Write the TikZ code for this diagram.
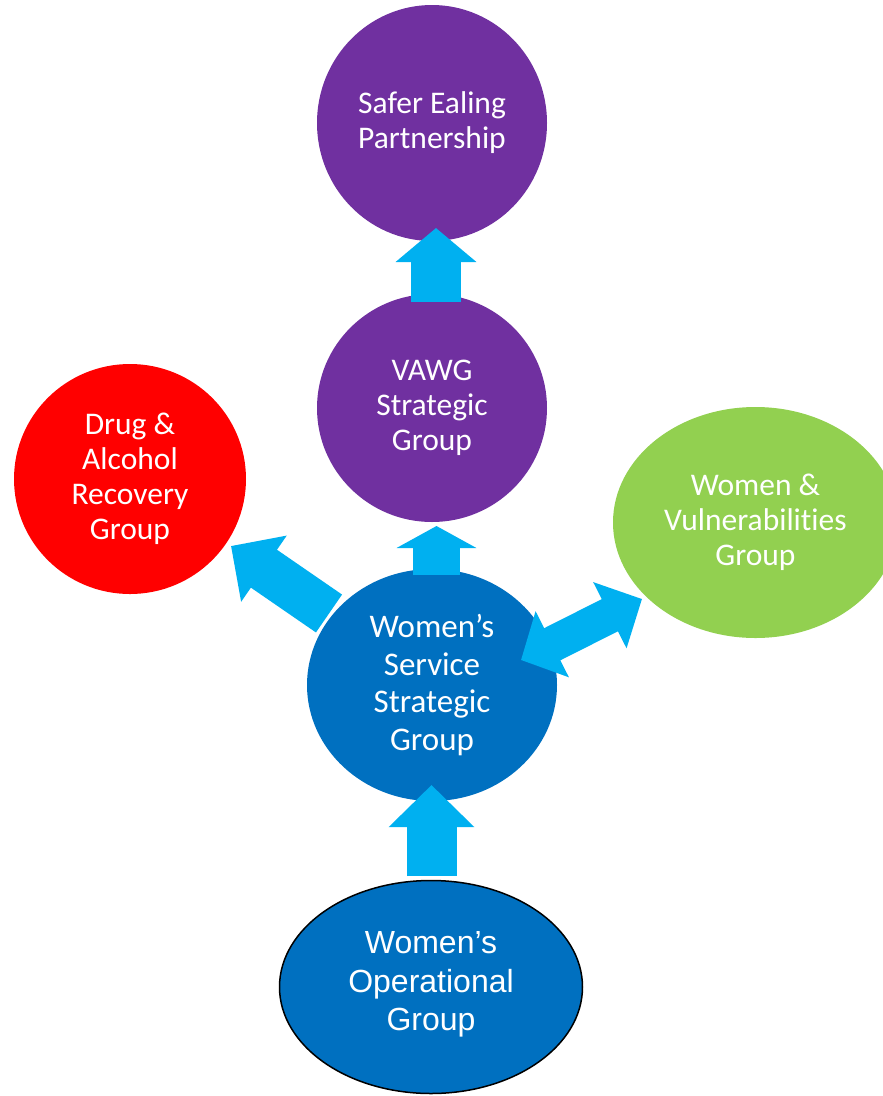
\documentclass[tikz,border=0pt]{standalone}
\usepackage{fontspec}
\setmainfont{Carlito}[Ligatures=NoCommon]
\newfontfamily\arialfont{Liberation Sans}
\usetikzlibrary{arrows.meta,shapes.geometric}
\definecolor{vpurple}{HTML}{7030A0}
\definecolor{vred}{HTML}{FF0000}
\definecolor{vgreen}{HTML}{92D050}
\definecolor{vblue}{HTML}{0070C0}
\definecolor{vcyan}{HTML}{00B0F0}
\begin{document}
\begin{tikzpicture}[x=1pt,y=-1pt,
  blob/.style={ellipse, inner sep=0pt, outer sep=0pt, text=white, align=center},
  calfont/.style={font=\fontsize{31.5}{35}\selectfont},
  blockarrow/.style={draw=vcyan, line width=#1}]
\useasboundingbox (0,0) rectangle (883,1096);
\clip (0,0) rectangle (883,1096);
\fill[white] (0,0) rectangle (883,1096);

\node[blob, calfont, fill=vpurple, minimum width=230pt, minimum height=236pt] (safer) at (432,123) {Safer Ealing\\Partnership};
\node[blob, calfont, fill=vpurple, minimum width=230pt, minimum height=228pt] (vawg) at (432,408) {VAWG\\Strategic\\Group};
\node[blob, calfont, fill=vred, minimum width=232pt, minimum height=230pt] (drug) at (130,479) {Drug \&\\Alcohol\\Recovery\\Group};
\node[blob, calfont, fill=vgreen, minimum width=285pt, minimum height=231pt] (women) at (755.5,522.5) {Women \&\\Vulnerabilities\\Group};
\node[blob, font=\fontsize{33}{37.5}\selectfont, fill=vblue, minimum width=250pt, minimum height=232pt] (wss) at (432,685) {Women’s\\Service\\Strategic\\Group};
\node[blob, font=\arialfont\fontsize{32}{38.5}\selectfont, fill=vblue, draw=black, line width=1.5pt, minimum width=303pt, minimum height=213pt] (wog) at (431,987) {Women’s\\Operational\\Group\\[-26.5pt]};

\coordinate (a1s) at (436,302);
\coordinate (a1e) at (436,228);
\coordinate (a2s) at (436.5,575);
\coordinate (a2e) at (436.5,526);
\coordinate (a3s) at (431.5,876);
\coordinate (a3e) at (431.5,785);
\coordinate (a4s) at (329,613.5);
\coordinate (a4e) at (231,546);
\coordinate (a5s) at (521,660);
\coordinate (a5e) at (642,599);

\draw[blockarrow=50pt, -{Triangle[width=79pt,length=34pt]}] (a1s) -- (a1e);
\draw[blockarrow=47pt, -{Triangle[width=79pt,length=22pt]}] (a2s) -- (a2e);
\draw[blockarrow=50pt, -{Triangle[width=83pt,length=42pt]}] (a3s) -- (a3e);
\draw[blockarrow=46pt, -{Triangle[width=78pt,length=40pt]}] (a4s) -- (a4e);
\draw[blockarrow=36pt, {Triangle[width=72pt,length=35pt]}-{Triangle[width=72pt,length=36pt]}] (a5s) -- (a5e);
\end{tikzpicture}
\end{document}
